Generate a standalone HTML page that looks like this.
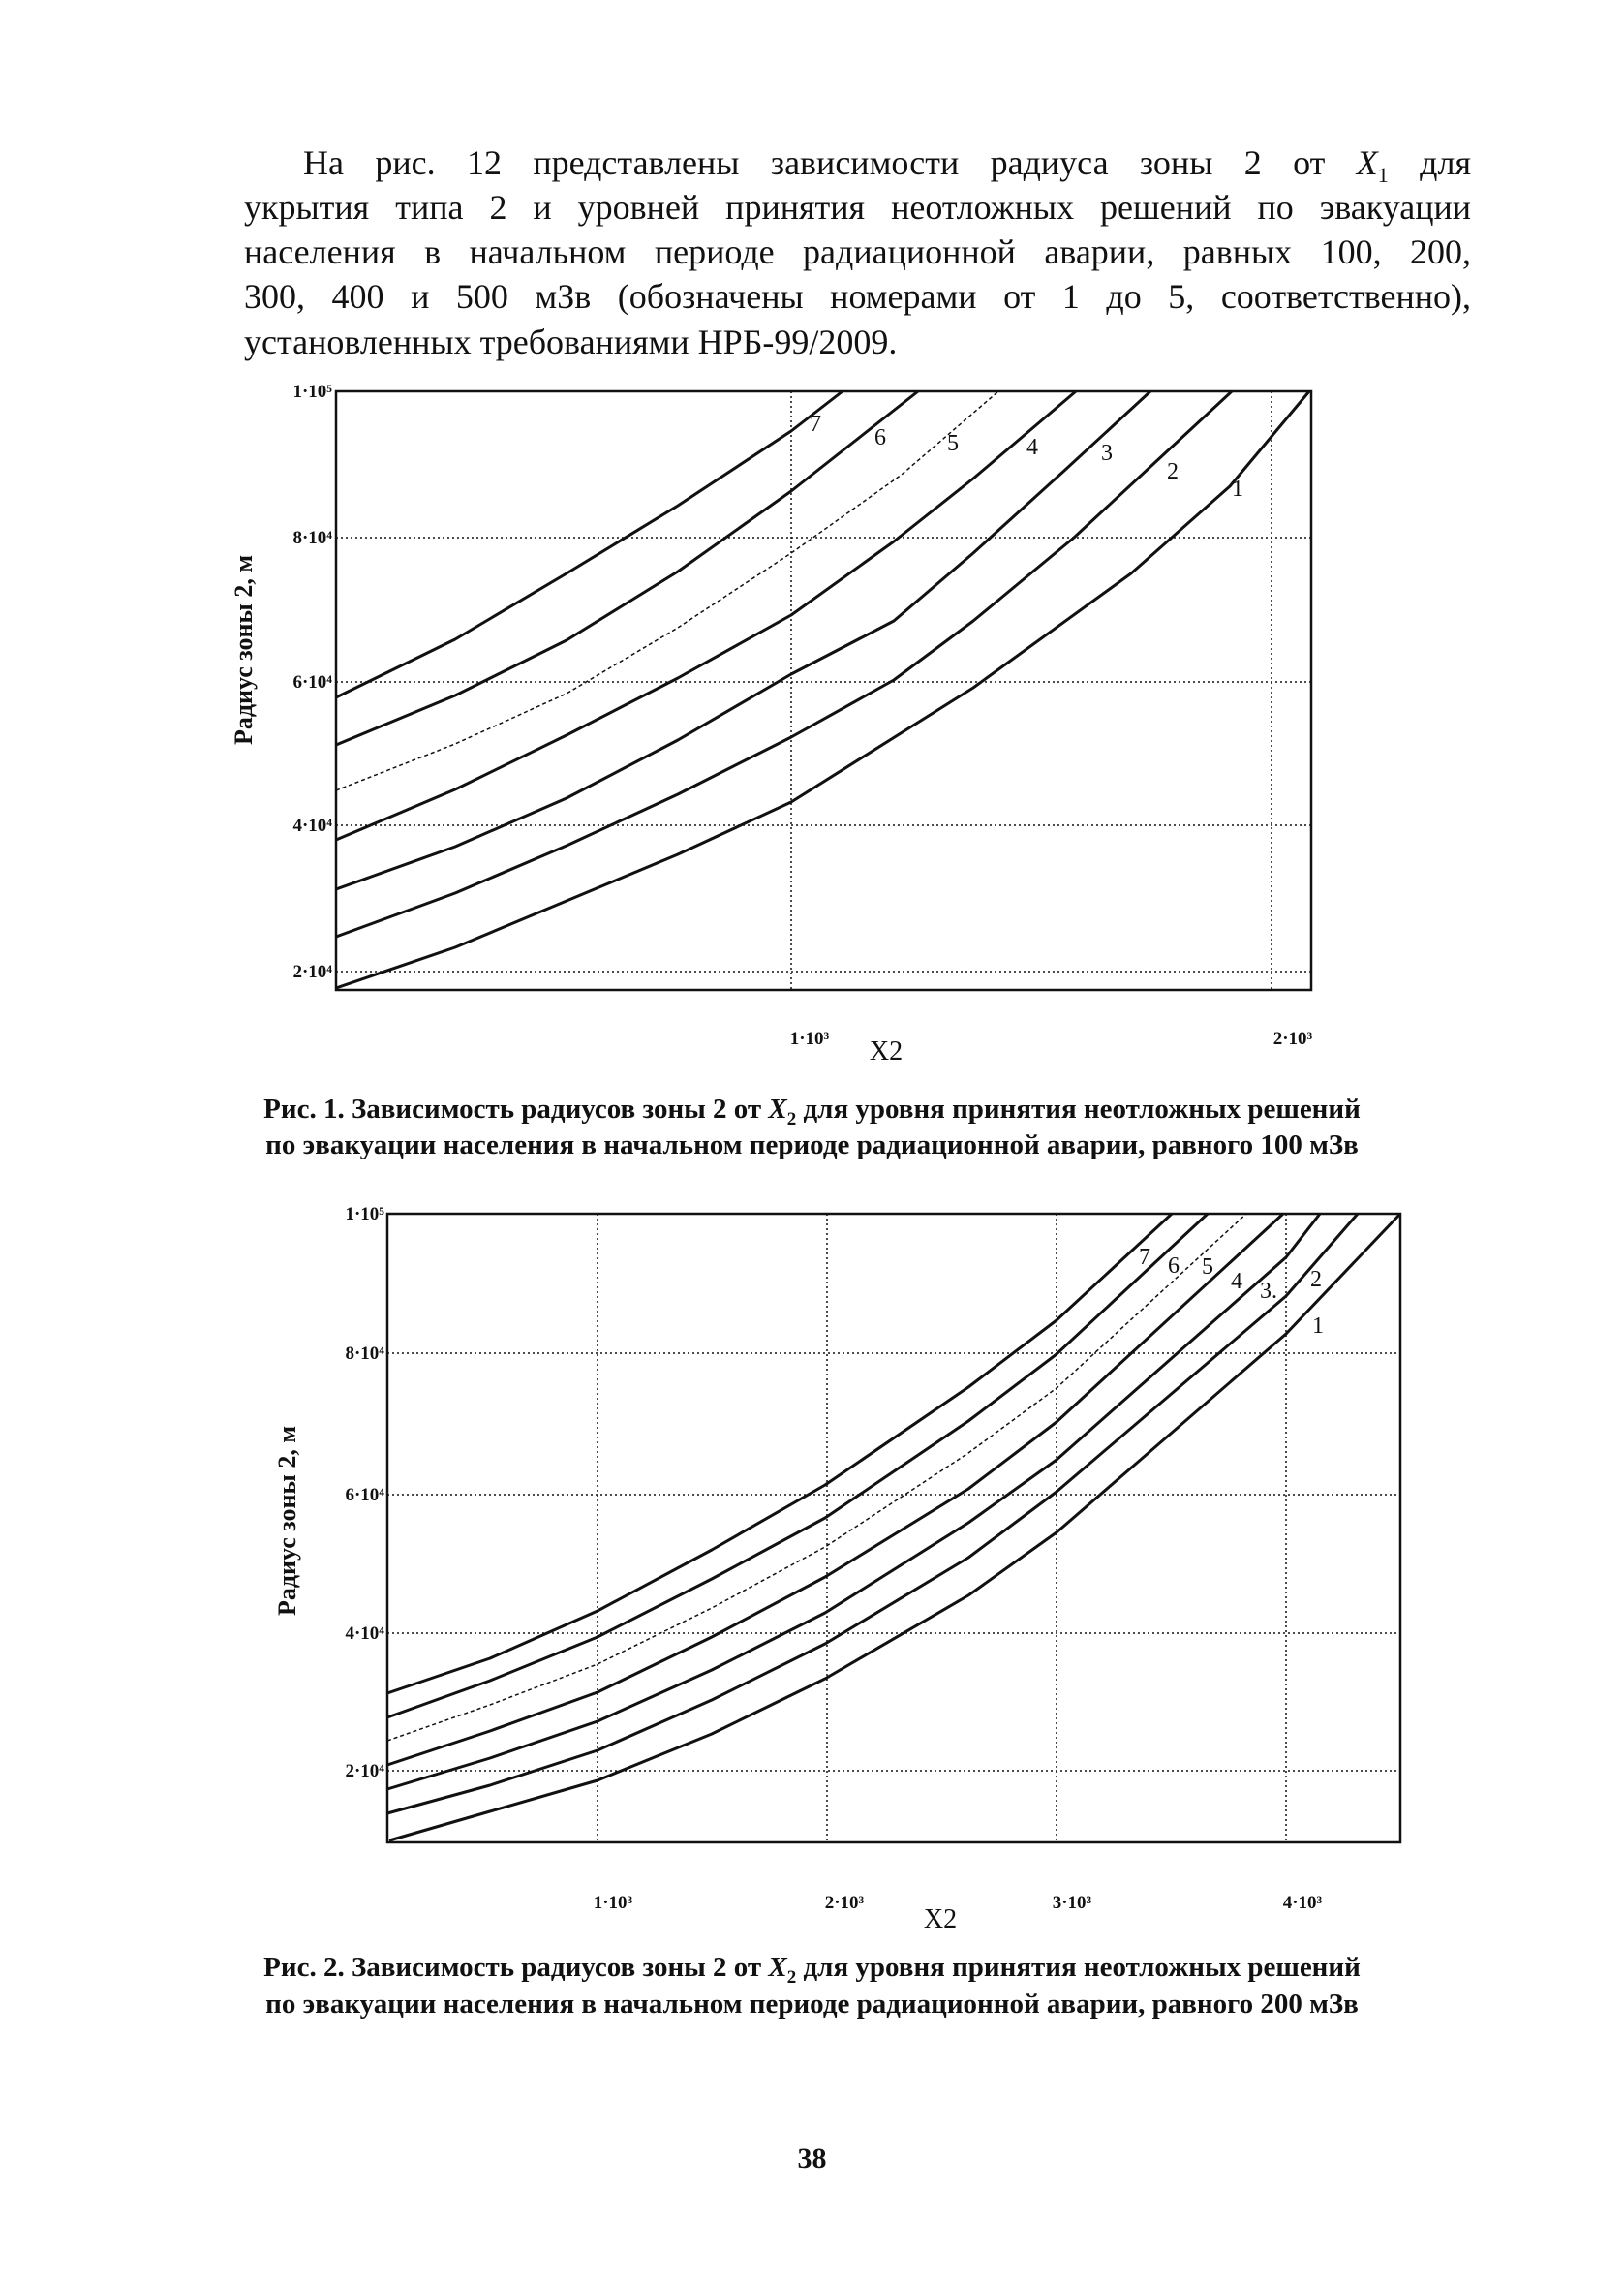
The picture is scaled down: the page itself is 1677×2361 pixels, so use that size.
<!DOCTYPE html>
<html><head><meta charset="utf-8"><style>
body{margin:0;background:#fff;}
#pg{position:relative;width:1677px;height:2361px;overflow:hidden;background:#fff;font-family:"Liberation Serif",serif;color:#111;}
.ln{position:absolute;left:252px;width:1267px;font-size:36px;text-align:justify;text-align-last:justify;white-space:nowrap;line-height:40px;}
.cap{position:absolute;left:0;width:1677px;text-align:center;font-size:29px;font-weight:bold;line-height:34px;}
svg{position:absolute;left:0;top:0;}
.t{font-family:"Liberation Serif",serif;font-weight:bold;fill:#111;}
.n{font-family:"Liberation Serif",serif;fill:#111;}
</style></head><body><div id="pg">
<div class="ln" style="top:148px;left:313px;width:1206px">На рис. 12 представлены зависимости радиуса зоны 2 от <i>X</i><sub style="font-size:22px">1</sub> для</div>
<div class="ln" style="top:194px">укрытия типа 2 и уровней принятия неотложных решений по эвакуации</div>
<div class="ln" style="top:240px">населения в начальном периоде радиационной аварии, равных 100, 200,</div>
<div class="ln" style="top:286px">300, 400 и 500 мЗв (обозначены номерами от 1 до 5, соответственно),</div>
<div class="ln" style="top:333px;text-align-last:left">установленных требованиями НРБ-99/2009.</div>
<div class="cap" style="top:1128px">Рис. 1. Зависимость радиусов зоны 2 от <i>X</i><sub style="font-size:19px">2</sub> для уровня принятия неотложных решений</div>
<div class="cap" style="top:1165px">по эвакуации населения в начальном периоде радиационной аварии, равного 100 мЗв</div>
<div class="cap" style="top:2014px">Рис. 2. Зависимость радиусов зоны 2 от <i>X</i><sub style="font-size:19px">2</sub> для уровня принятия неотложных решений</div>
<div class="cap" style="top:2052px">по эвакуации населения в начальном периоде радиационной аварии, равного 200 мЗв</div>
<div class="cap" style="top:2212px;font-size:30px">38</div>
<svg width="1677" height="2361" viewBox="0 0 1677 2361">
<g fill="none" stroke="#111">
<g stroke-width="1.5" stroke-dasharray="2,3">
<line x1="347" y1="555" x2="1354" y2="555"/>
<line x1="347" y1="704" x2="1354" y2="704"/>
<line x1="347" y1="852" x2="1354" y2="852"/>
<line x1="347" y1="1003" x2="1354" y2="1003"/>
<line x1="817" y1="404" x2="817" y2="1022"/>
<line x1="1313" y1="404" x2="1313" y2="1022"/>
</g>
<rect x="347" y="404" width="1007" height="618" stroke-width="2.5"/>
<g stroke-width="3" stroke-linejoin="round">
<polyline points="347,1020 470,978 585,930 700,882 817,828 1005,710 1168,592 1270,502 1352,404"/>
<polyline points="347,967 470,922 585,873 700,820 817,761 923,702 1005,641 1109,555 1272,404"/>
<polyline points="347,918 470,874 585,824 700,764 817,696 923,641 1005,571 1100,485 1188,404"/>
<polyline points="347,867 470,815 585,759 700,700 817,635 923,559 1005,494 1111,404"/>
<polyline stroke-width="1.5" stroke-dasharray="4,3" points="347,816 470,768 585,716 700,648 817,571 931,490 1031,404"/>
<polyline points="347,769 470,718 585,661 700,590 817,507 948,404"/>
<polyline points="347,720 470,660 585,592 700,522 817,445 870,404"/>
</g></g>
<g fill="none" stroke="#111">
<g stroke-width="1.5" stroke-dasharray="2,3">
<line x1="400" y1="1397" x2="1446" y2="1397"/>
<line x1="400" y1="1543" x2="1446" y2="1543"/>
<line x1="400" y1="1686" x2="1446" y2="1686"/>
<line x1="400" y1="1828" x2="1446" y2="1828"/>
<line x1="617" y1="1253" x2="617" y2="1902"/>
<line x1="854" y1="1253" x2="854" y2="1902"/>
<line x1="1091" y1="1253" x2="1091" y2="1902"/>
<line x1="1328" y1="1253" x2="1328" y2="1902"/>
</g>
<rect x="400" y="1253" width="1046" height="649" stroke-width="2.5"/>
<g stroke-width="3" stroke-linejoin="round">
<polyline points="402,1900 506,1870 617,1838 735,1790 852,1733 1000,1647 1091,1582 1328,1377 1446,1253"/>
<polyline points="400,1872 506,1843 617,1807 735,1755 852,1697 1000,1608 1091,1540 1328,1338 1402,1253"/>
<polyline points="400,1847 506,1815 617,1777 735,1724 852,1665 1000,1572 1091,1507 1328,1298 1363,1253"/>
<polyline points="400,1822 506,1787 617,1747 735,1690 852,1628 1000,1537 1091,1468 1325,1253"/>
<polyline stroke-width="1.5" stroke-dasharray="4,3" points="400,1797 506,1760 617,1718 735,1660 852,1597 1000,1500 1091,1433 1287,1253"/>
<polyline points="400,1773 506,1735 617,1690 735,1630 852,1567 1000,1467 1091,1398 1247,1253"/>
<polyline points="400,1748 506,1712 617,1663 735,1600 852,1533 1000,1432 1091,1363 1210,1253"/>
</g></g>
<g class="t" font-size="19">
<text x="343" y="410" text-anchor="end">1·10⁵</text>
<text x="343" y="561" text-anchor="end">8·10⁴</text>
<text x="343" y="710" text-anchor="end">6·10⁴</text>
<text x="343" y="858" text-anchor="end">4·10⁴</text>
<text x="343" y="1009" text-anchor="end">2·10⁴</text>
<text x="836" y="1078" text-anchor="middle">1·10³</text>
<text x="1335" y="1078" text-anchor="middle">2·10³</text>
<text x="397" y="1259" text-anchor="end">1·10⁵</text>
<text x="397" y="1403" text-anchor="end">8·10⁴</text>
<text x="397" y="1549" text-anchor="end">6·10⁴</text>
<text x="397" y="1692" text-anchor="end">4·10⁴</text>
<text x="397" y="1834" text-anchor="end">2·10⁴</text>
<text x="633" y="1970" text-anchor="middle">1·10³</text>
<text x="872" y="1970" text-anchor="middle">2·10³</text>
<text x="1107" y="1970" text-anchor="middle">3·10³</text>
<text x="1345" y="1970" text-anchor="middle">4·10³</text>
</g>
<g class="n" font-size="28">
<text x="915" y="1094" text-anchor="middle">X2</text>
<text x="971" y="1990" text-anchor="middle">X2</text>
</g>
<g class="t" font-size="26">
<text transform="translate(260,671) rotate(-90)" text-anchor="middle">Радиус зоны 2, м</text>
<text transform="translate(305,1570) rotate(-90)" text-anchor="middle">Радиус зоны 2, м</text>
</g>
<g class="n" font-size="24" text-anchor="middle">
<text x="842" y="445">7</text><text x="909" y="459">6</text><text x="984" y="465">5</text><text x="1066" y="469">4</text><text x="1143" y="475">3</text><text x="1211" y="494">2</text><text x="1278" y="512">1</text>
<text x="1182" y="1305">7</text><text x="1212" y="1314">6</text><text x="1247" y="1315">5</text><text x="1277" y="1330">4</text><text x="1310" y="1340">3.</text><text x="1359" y="1328">2</text><text x="1361" y="1376">1</text>
</g>
</svg>
</div></body></html>
